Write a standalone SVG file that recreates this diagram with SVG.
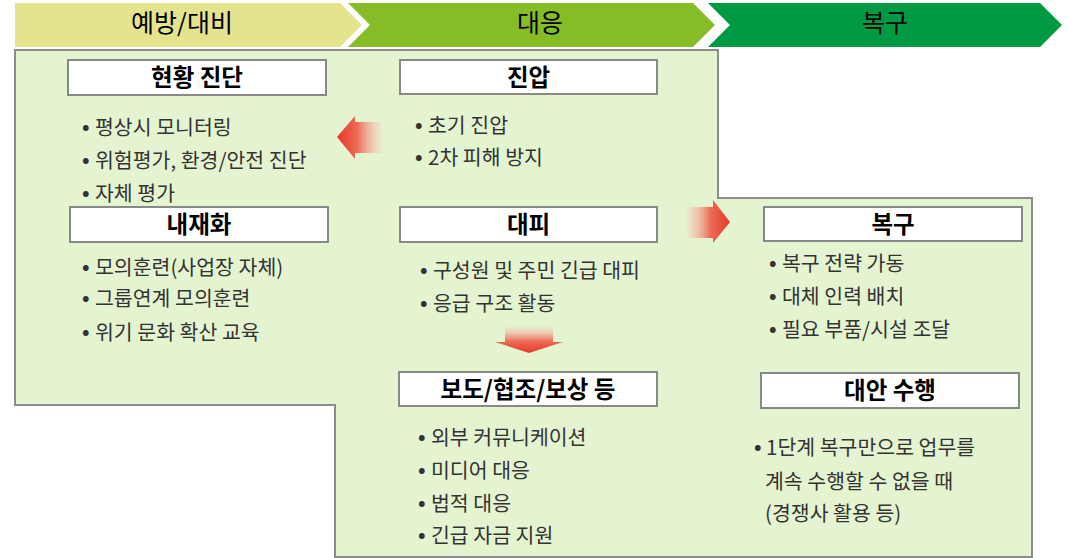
<svg xmlns="http://www.w3.org/2000/svg" width="1068" height="558" viewBox="0 0 1068 558">
<defs>
<style>
.hd{font-family:"Noto Sans CJK KR","Noto Sans",sans-serif;font-size:25px;fill:#000;text-anchor:middle}
.tb{fill:#fff;stroke:#888;stroke-width:2}
.tt{font-family:"Noto Sans CJK KR","Noto Sans",sans-serif;font-size:23.5px;font-weight:bold;fill:#000;text-anchor:middle}
.bl{font-family:"Noto Sans CJK KR","Noto Sans",sans-serif;font-size:20.5px;fill:#333}
.bu{font-size:20px;font-weight:bold}
</style>
<linearGradient id="gL" x1="0" y1="0" x2="1" y2="0">
<stop offset="0" stop-color="#E6392B"/>
<stop offset="0.45" stop-color="#EC6A55"/>
<stop offset="1" stop-color="#F6D2C4" stop-opacity="0.3"/>
</linearGradient>
<linearGradient id="gR" x1="1" y1="0" x2="0" y2="0">
<stop offset="0" stop-color="#E6392B"/>
<stop offset="0.45" stop-color="#EC6A55"/>
<stop offset="1" stop-color="#F6D2C4" stop-opacity="0.3"/>
</linearGradient>
<linearGradient id="gD" x1="0" y1="1" x2="0" y2="0">
<stop offset="0" stop-color="#E6392B"/>
<stop offset="0.45" stop-color="#EC6A55"/>
<stop offset="1" stop-color="#F6D2C4" stop-opacity="0.3"/>
</linearGradient>
</defs>
<rect width="1068" height="558" fill="#fff"/>
<g id="headers">
<polygon points="15,3 340,3 362,25 340,47 15,47" fill="#E4E38E"/>
<polygon points="348,3 693,3 715,25 693,47 348,47 370,25" fill="#86BC25"/>
<polygon points="708,3 1040,3 1062,25 1040,47 708,47 730,25" fill="#009A44"/>
<text class="hd" x="182" y="32">예방/대비</text>
<text class="hd" x="540" y="32">대응</text>
<text class="hd" x="885" y="32">복구</text>
</g>
<g id="area">
<polygon points="15,50 718,50 718,198 1032,198 1032,557 335,557 335,405 15,405" fill="#E5F4D0" stroke="#8C8C8C" stroke-width="2"/>
</g>
<g id="connectors">
<polygon points="337,137 355,116 355,122 382,122 382,153 355,153 355,159" fill="url(#gL)"/>
<polygon points="730,222 713,200 713,207 687,207 687,238 713,238 713,243" fill="url(#gR)"/>
<polygon points="529,353 495,342 505,342 505,327 553,327 553,342 563,342" fill="url(#gD)"/>
</g>
<g id="node-hyunhwang">
<rect class="tb" x="68" y="60" width="258" height="35"/>
<text class="tt" x="197" y="86">현황 진단</text>
<text class="bl"><tspan class="bu" x="82" y="134">•</tspan><tspan x="95" y="135">평상시 모니터링</tspan></text>
<text class="bl"><tspan class="bu" x="82" y="167">•</tspan><tspan x="95" y="168">위험평가, 환경/안전 진단</tspan></text>
<text class="bl"><tspan class="bu" x="82" y="200">•</tspan><tspan x="95" y="201">자체 평가</tspan></text>
</g>
<g id="node-naejae">
<rect class="tb" x="70" y="207" width="258" height="35"/>
<text class="tt" x="199" y="233">내재화</text>
<text class="bl"><tspan class="bu" x="82" y="274">•</tspan><tspan x="95" y="275">모의훈련(사업장 자체)</tspan></text>
<text class="bl"><tspan class="bu" x="82" y="305">•</tspan><tspan x="95" y="306">그룹연계 모의훈련</tspan></text>
<text class="bl"><tspan class="bu" x="82" y="339">•</tspan><tspan x="95" y="340">위기 문화 확산 교육</tspan></text>
</g>
<g id="node-jinap">
<rect class="tb" x="400" y="60" width="257" height="34"/>
<text class="tt" x="528.5" y="85.5">진압</text>
<text class="bl"><tspan class="bu" x="415" y="132">•</tspan><tspan x="428" y="133">초기 진압</tspan></text>
<text class="bl"><tspan class="bu" x="415" y="164">•</tspan><tspan x="428" y="165">2차 피해 방지</tspan></text>
</g>
<g id="node-daepi">
<rect class="tb" x="400" y="207" width="257" height="35"/>
<text class="tt" x="528.5" y="233">대피</text>
<text class="bl"><tspan class="bu" x="420" y="277">•</tspan><tspan x="433" y="278">구성원 및 주민 긴급 대피</tspan></text>
<text class="bl"><tspan class="bu" x="420" y="310">•</tspan><tspan x="433" y="311">응급 구조 활동</tspan></text>
</g>
<g id="node-bodo">
<rect class="tb" x="399" y="372" width="258" height="34"/>
<text class="tt" x="528" y="397.5">보도/협조/보상 등</text>
<text class="bl"><tspan class="bu" x="418" y="444">•</tspan><tspan x="431" y="445">외부 커뮤니케이션</tspan></text>
<text class="bl"><tspan class="bu" x="418" y="477">•</tspan><tspan x="431" y="478">미디어 대응</tspan></text>
<text class="bl"><tspan class="bu" x="418" y="510">•</tspan><tspan x="431" y="511">법적 대응</tspan></text>
<text class="bl"><tspan class="bu" x="418" y="542">•</tspan><tspan x="431" y="543">긴급 자금 지원</tspan></text>
</g>
<g id="node-bokgu">
<rect class="tb" x="764" y="207" width="258" height="34"/>
<text class="tt" x="893" y="232.5">복구</text>
<text class="bl"><tspan class="bu" x="769" y="270">•</tspan><tspan x="782" y="271">복구 전략 가동</tspan></text>
<text class="bl"><tspan class="bu" x="769" y="303">•</tspan><tspan x="782" y="304">대체 인력 배치</tspan></text>
<text class="bl"><tspan class="bu" x="769" y="336">•</tspan><tspan x="782" y="337">필요 부품/시설 조달</tspan></text>
</g>
<g id="node-daean">
<rect class="tb" x="761" y="373" width="258" height="35"/>
<text class="tt" x="890" y="399">대안 수행</text>
<text class="bl"><tspan class="bu" x="754" y="454">•</tspan><tspan x="766" y="455">1단계 복구만으로 업무를</tspan></text>
<text class="bl"><tspan x="765" y="489">계속 수행할 수 없을 때</tspan></text>
<text class="bl"><tspan x="765" y="521">(경쟁사 활용 등)</tspan></text>
</g>
</svg>
